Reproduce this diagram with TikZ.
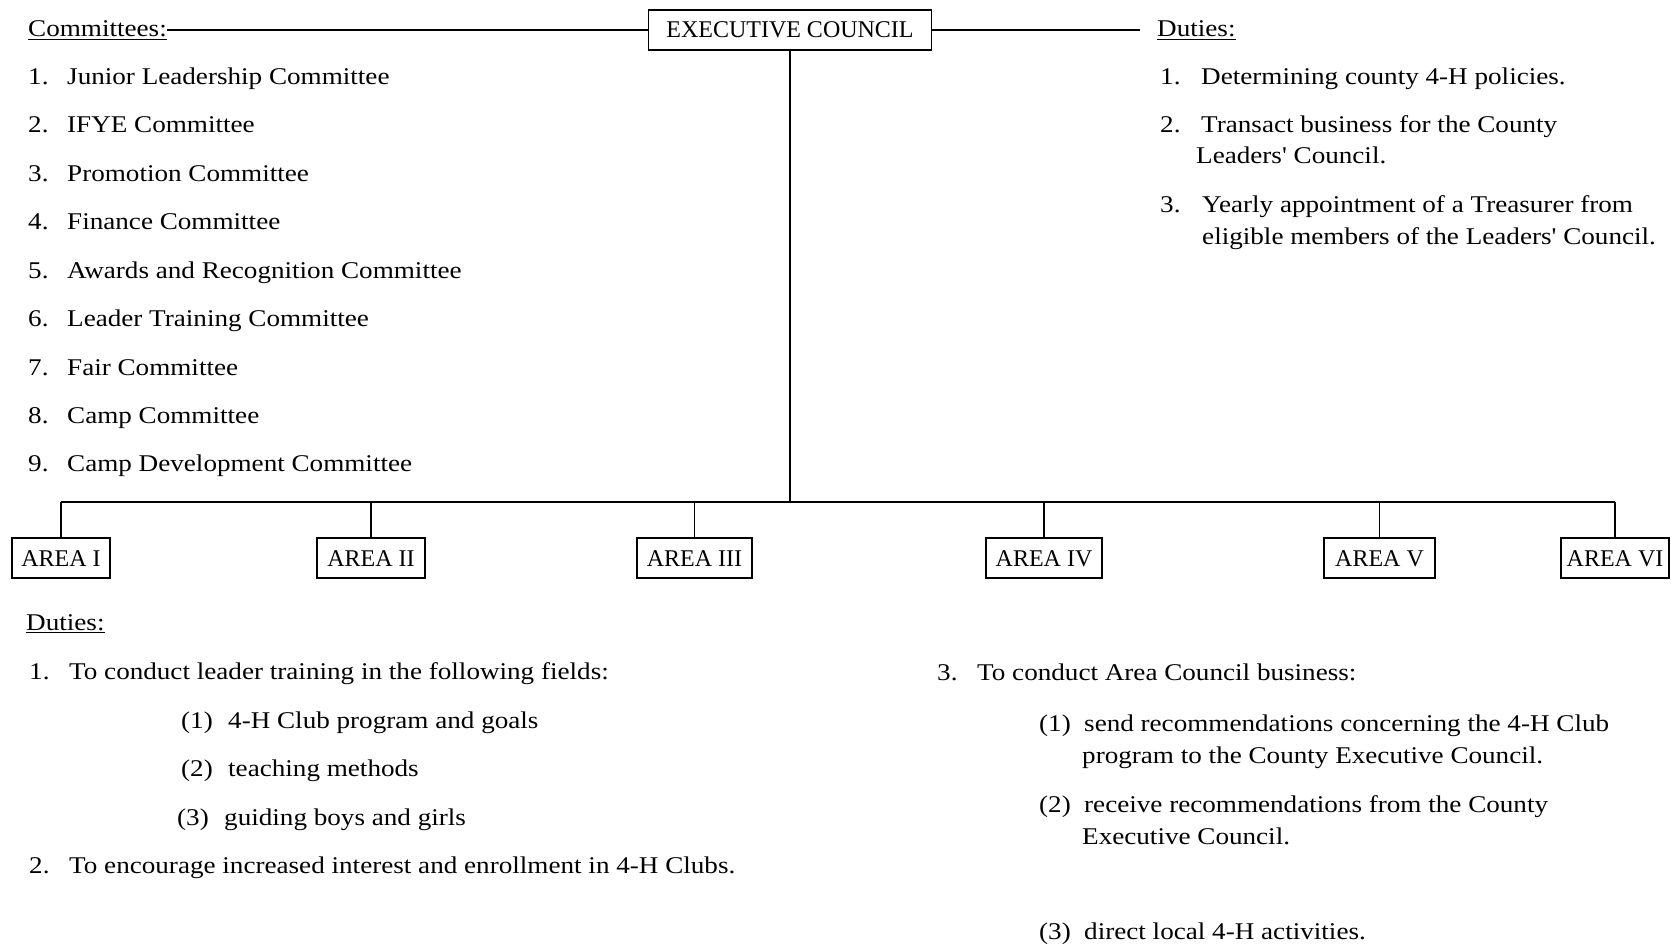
\documentclass[tikz,border=0pt]{standalone}
\usepackage{fontspec}
\setmainfont{Liberation Serif}
\newfontfamily\widefont[FakeStretch=1.13]{Liberation Serif}
\newcommand{\fsz}{\widefont\fontsize{24}{28}\selectfont}
\newcommand{\bsz}{\fontsize{24}{28}\selectfont}
\begin{document}
\begin{tikzpicture}[x=1pt,y=-1pt,
  txt/.style={anchor=base west, inner sep=0pt, font=\fsz},
  boxnode/.style={draw, line width=1.8pt, font=\bsz, inner sep=0pt, minimum height=40pt, text height=16pt, text depth=0pt},
  conn/.style={line width=1.8pt}]
\useasboundingbox[fill=white] (0,0) rectangle (1671,944);
% Executive council
\node[boxnode, minimum width=283pt] (ec) at (790,30) {EXECUTIVE COUNCIL};
\node[txt] (comm) at (28,37) {\underline{Committees:}};
\node[txt] (dtop) at (1157,37) {\underline{Duties:}};
\coordinate (dtopl) at (1140,30);
\draw[conn] (comm.east |- ec.west) -- (ec.west);
\draw[conn] (ec.east) -- (dtopl);
% committees
\foreach \n/\y/\t in {1/85/Junior Leadership Committee, 2/133/IFYE Committee, 3/182/Promotion Committee, 4/230/Finance Committee, 5/278/Awards and Recognition Committee, 6/326/Leader Training Committee, 7/375/Fair Committee, 8/423/Camp Committee, 9/471/Camp Development Committee}{
  \node[txt] (cn\n) at (28,\y) {\n.};
  \node[txt] (ct\n) at (67,\y) {\t};
}
% top-right duties
\node[txt] (d1n) at (1160,85) {1.};
\node[txt] (d1t) at (1201,85) {Determining county 4-H policies.};
\node[txt] (d2n) at (1160,133) {2.};
\node[txt] (d2t) at (1201,133) {Transact business for the County};
\node[txt] (d2u) at (1196,164) {Leaders' Council.};
\node[txt] (d3n) at (1160,213) {3.};
\node[txt] (d3t) at (1202,213) {Yearly appointment of a Treasurer from};
\node[txt] (d3u) at (1202,245) {eligible members of the Leaders' Council.};
% areas
\node[boxnode, minimum width=98pt] (a1) at (61,558) {AREA I};
\node[boxnode, minimum width=108pt] (a2) at (371,558) {AREA II};
\node[boxnode, minimum width=115pt] (a3) at (694.5,558) {AREA III};
\node[boxnode, minimum width=116pt] (a4) at (1044,558) {AREA IV};
\node[boxnode, minimum width=111pt] (a5) at (1379.5,558) {AREA V};
\node[boxnode, minimum width=108pt] (a6) at (1615,558) {AREA VI};
\coordinate (bus) at (790,502);
\draw[conn] (ec.south) -- (ec.south |- bus);
\draw[conn] (a1.north |- bus) -- (a6.north |- bus);
\foreach \a in {a1,a2,a3,a4,a5,a6}{
  \draw[conn] (\a.north) -- (\a.north |- bus);
}
% bottom duties
\node[txt] (bd) at (26,630) {\underline{Duties:}};
\node[txt] (b1n) at (29,679) {1.};
\node[txt] (b1t) at (69,679) {To conduct leader training in the following fields:};
\node[txt] (s1n) at (181,728) {(1)};
\node[txt] (s1t) at (228,728) {4-H Club program and goals};
\node[txt] (s2n) at (181,776) {(2)};
\node[txt] (s2t) at (228,776) {teaching methods};
\node[txt] (s3n) at (177,825) {(3)};
\node[txt] (s3t) at (224,825) {guiding boys and girls};
\node[txt] (b2n) at (29,873) {2.};
\node[txt] (b2t) at (69,873) {To encourage increased interest and enrollment in 4-H Clubs.};
% right bottom
\node[txt] (b3n) at (937,680) {3.};
\node[txt] (b3t) at (977,680) {To conduct Area Council business:};
\node[txt] (r1n) at (1039,731) {(1)};
\node[txt] (r1t) at (1084,731) {send recommendations concerning the 4-H Club};
\node[txt] (r1u) at (1082,763) {program to the County Executive Council.};
\node[txt] (r2n) at (1039,812) {(2)};
\node[txt] (r2t) at (1084,812) {receive recommendations from the County};
\node[txt] (r2u) at (1082,844) {Executive Council.};
\node[txt] (r3n) at (1039,939) {(3)};
\node[txt] (r3t) at (1084,939) {direct local 4-H activities.};
\end{tikzpicture}
\end{document}
